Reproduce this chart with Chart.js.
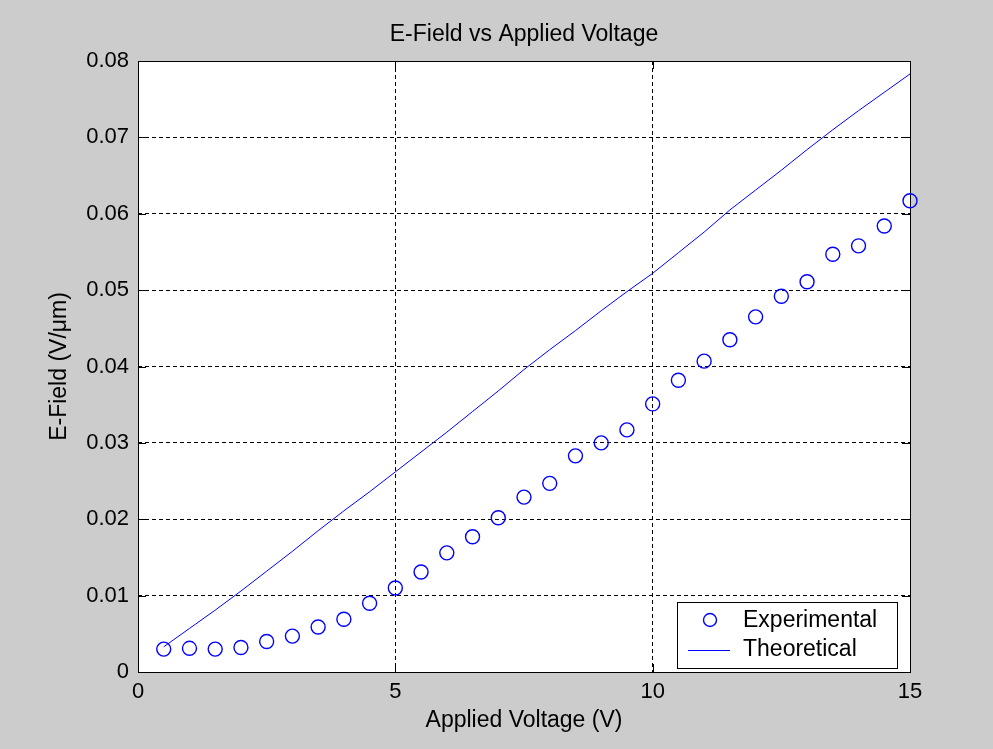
<!DOCTYPE html>
<html>
<head>
<meta charset="utf-8">
<title>E-Field vs Applied Voltage</title>
<script src="https://cdn.jsdelivr.net/npm/chart.js@4.4.0/dist/chart.umd.min.js"></script>
<style>
  html, body { margin: 0; padding: 0; background: #cccccc; }
  #wrap { width: 993px; height: 749px; }
</style>
</head>
<body>
<div id="wrap"><canvas id="efieldChart" width="993" height="749"></canvas></div>
<script>
// ==========================================
// E-FIELD VS APPLIED VOLTAGE (Chart.js)
// ==========================================

const voltages = [
  0.5, 1, 1.5, 2, 2.5, 3, 3.5, 4, 4.5, 5,
  5.5, 6, 6.5, 7, 7.5, 8, 8.5, 9, 9.5, 10,
  10.5, 11, 11.5, 12, 12.5, 13, 13.5, 14, 14.5, 15,
];

const experimental = [
  0.0030, 0.0031, 0.0030, 0.0032, 0.0040, 0.0047, 0.0059, 0.0069, 0.0090, 0.0110,
  0.0131, 0.0156, 0.0177, 0.0202, 0.0229, 0.0247, 0.0283, 0.0300, 0.0317, 0.0351,
  0.0382, 0.0407, 0.0435, 0.0465, 0.0492, 0.0511, 0.0547, 0.0558, 0.0584, 0.0617,
];

const theoretical = [
  0.0033, 0.0057, 0.0081, 0.0106, 0.0132, 0.0158, 0.0185, 0.0211, 0.0236, 0.0262,
  0.0288, 0.0314, 0.0341, 0.0368, 0.0396, 0.0422, 0.0447, 0.0473, 0.0498, 0.0522,
  0.0549, 0.0576, 0.0605, 0.0631, 0.0657, 0.0684, 0.0710, 0.0735, 0.0759, 0.0783,
];

const xTicks = [0, 5, 10, 15];
const yTicks = [0, 0.01, 0.02, 0.03, 0.04, 0.05, 0.06, 0.07, 0.08];

const chartTitle = 'E-Field vs Applied Voltage';

const FONT = '"Liberation Sans", Arial, sans-serif';

// white axes box, solid frame, inward tick marks, title and legend (matlab style)
const axesBox = {
  id: 'axesBox',
  beforeDraw(chart) {
    const { ctx, chartArea: a } = chart;
    ctx.save();
    ctx.fillStyle = '#ffffff';
    ctx.fillRect(a.left, a.top, a.right - a.left, a.bottom - a.top);
    ctx.restore();
  },
  beforeDatasetsDraw(chart) {
    const { ctx, chartArea: a, scales } = chart;
    const len = 8;
    ctx.save();
    ctx.strokeStyle = '#000000';
    ctx.lineWidth = 1;
    ctx.setLineDash([]);
    ctx.beginPath();
    xTicks.forEach(function (v) {
      const px = Math.round(scales.x.getPixelForValue(v)) + 0.5;
      ctx.moveTo(px, a.bottom);
      ctx.lineTo(px, a.bottom - len);
      ctx.moveTo(px, a.top);
      ctx.lineTo(px, a.top + len);
    });
    yTicks.forEach(function (v) {
      const py = Math.round(scales.y.getPixelForValue(v)) + 0.5;
      ctx.moveTo(a.left, py);
      ctx.lineTo(a.left + len, py);
      ctx.moveTo(a.right, py);
      ctx.lineTo(a.right - len, py);
    });
    ctx.stroke();
    ctx.strokeRect(
      Math.round(a.left) + 0.5,
      Math.round(a.top) + 0.5,
      Math.round(a.right - a.left),
      Math.round(a.bottom - a.top)
    );
    ctx.restore();
  },
  afterDraw(chart) {
    const { ctx, chartArea: a } = chart;
    const ds = chart.data.datasets;

    // title centred over the axes
    ctx.save();
    ctx.fillStyle = '#000000';
    ctx.font = '23px ' + FONT;
    ctx.textAlign = 'center';
    ctx.textBaseline = 'middle';
    ctx.fillText(chartTitle, (a.left + a.right) / 2, 35);
    ctx.restore();

    // legend box in the lower right corner of the axes
    const w = 220, h = 66;
    const x0 = a.right - 13 - w;
    const y0 = a.bottom - 4 - h;
    ctx.save();
    ctx.fillStyle = '#ffffff';
    ctx.fillRect(x0, y0, w, h);
    ctx.strokeStyle = '#000000';
    ctx.lineWidth = 1;
    ctx.strokeRect(Math.round(x0) + 0.5, Math.round(y0) + 0.5, w, h);

    const row1 = y0 + 18;
    const row2 = y0 + 48;
    ctx.strokeStyle = ds[0].borderColor;
    ctx.lineWidth = ds[0].borderWidth;
    ctx.beginPath();
    ctx.arc(x0 + 33, row1, 6.5, 0, Math.PI * 2);
    ctx.stroke();

    ctx.strokeStyle = ds[1].borderColor;
    ctx.lineWidth = ds[1].borderWidth;
    ctx.beginPath();
    ctx.moveTo(x0 + 11, row2 + 0.5);
    ctx.lineTo(x0 + 53, row2 + 0.5);
    ctx.stroke();

    ctx.fillStyle = '#000000';
    ctx.font = '23px ' + FONT;
    ctx.textBaseline = 'middle';
    ctx.textAlign = 'left';
    ctx.fillText(ds[0].label, x0 + 66, row1 + 1);
    ctx.fillText(ds[1].label, x0 + 66, row2);
    ctx.restore();
  },
};

const efieldData = {
  datasets: [
    {
      label: 'Experimental',
      data: voltages.map((v, i) => ({ x: v, y: experimental[i] })),
      showLine: false,
      pointStyle: 'circle',
      pointRadius: 7,
      pointBorderWidth: 1.4,
      borderColor: '#0000ff',
      backgroundColor: 'rgba(0, 0, 0, 0)',
      borderWidth: 1.4,
      clip: false,
    },
    {
      label: 'Theoretical',
      data: voltages.map((v, i) => ({ x: v, y: theoretical[i] })),
      showLine: true,
      pointRadius: 0,
      borderColor: '#0000ff',
      backgroundColor: '#0000ff',
      borderWidth: 1,
      tension: 0,
    },
  ],
};

const efieldConfig = {
  type: 'scatter',
  data: efieldData,
  plugins: [axesBox],
  options: {
    responsive: false,
    animation: false,
    layout: {
      padding: { top: 61, left: 0, right: 83, bottom: 0 },
    },
    plugins: {
      legend: { display: false },
      tooltip: { enabled: false },
      title: { display: false },
    },
    scales: {
      x: {
        type: 'linear',
        min: 0,
        max: 15,
        afterBuildTicks: function (scale) {
          scale.ticks = xTicks.map((v) => ({ value: v }));
        },
        afterFit: function (scale) {
          scale.height = 77;
        },
        ticks: {
          color: '#000000',
          padding: 7,
          maxRotation: 0,
          font: { family: FONT, size: 22 },
          callback: (v) => String(v),
        },
        grid: {
          color: '#000000',
          lineWidth: 1,
          drawTicks: false,
        },
        border: { display: false, dash: [4, 3] },
        title: {
          display: true,
          text: 'Applied Voltage (V)',
          color: '#000000',
          font: { family: FONT, size: 23 },
          padding: { top: 0, bottom: 15 },
        },
      },
      y: {
        type: 'linear',
        min: 0,
        max: 0.08,
        afterBuildTicks: function (scale) {
          scale.ticks = yTicks.map((v) => ({ value: v }));
        },
        afterFit: function (scale) {
          scale.width = 138;
        },
        ticks: {
          color: '#000000',
          padding: 9,
          font: { family: FONT, size: 22 },
          callback: (v) => (Math.abs(v) < 1e-9 ? '0' : v.toFixed(2)),
        },
        grid: {
          color: '#000000',
          lineWidth: 1,
          drawTicks: false,
        },
        border: { display: false, dash: [4, 3] },
        title: {
          display: true,
          text: 'E-Field (V/\u03bcm)',
          color: '#000000',
          font: { family: FONT, size: 23 },
          padding: { top: 46, bottom: 0 },
        },
      },
    },
  },
};

const efieldChart = new Chart(
  document.getElementById('efieldChart'),
  efieldConfig
);
</script>
</body>
</html>
